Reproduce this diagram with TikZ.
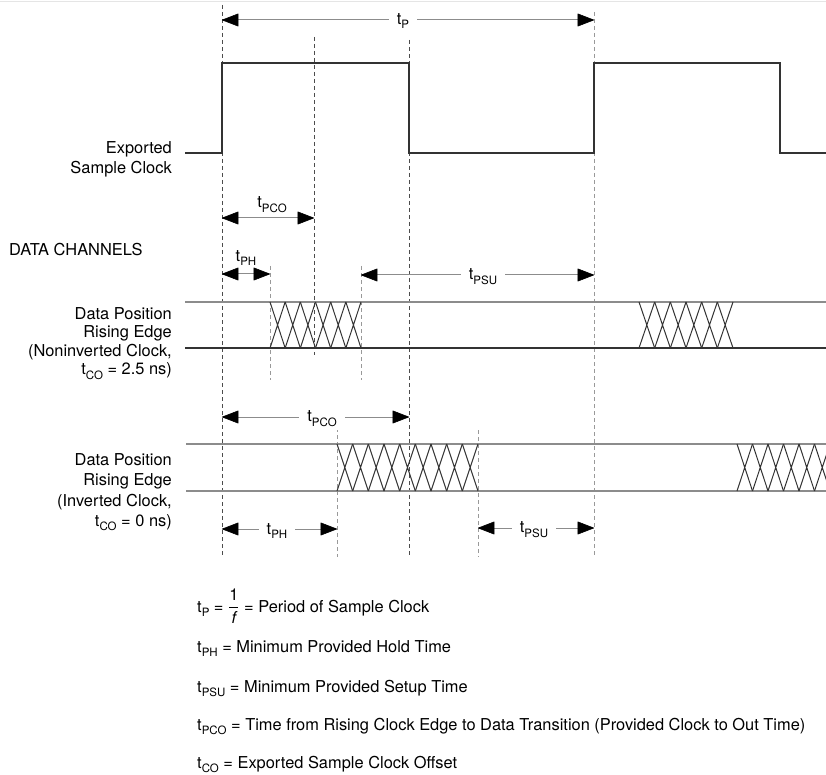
\documentclass[tikz,border=0pt]{standalone}
\usepackage{fontspec}
\setmainfont{TeX Gyre Heros}
\usetikzlibrary{arrows.meta}
\newcommand\tsub[1]{t\raisebox{-0.3em}{\fontsize{11.5}{12}\selectfont #1}}
\newcommand\xings[5]{%
  \pgfmathsetmacro\xw{(#2-#1)/#3}%
  \foreach \i in {1,...,#3}{%
    \pgfmathsetmacro\xa{#1+(\i-1)*\xw}%
    \pgfmathsetmacro\xb{\xa+\xw}%
    \draw[xing] (\xa,#4) -- (\xb,#5) (\xa,#5) -- (\xb,#4);
  }}
\begin{document}
\begin{tikzpicture}[x=1pt,y=-1pt,
  txt/.style={font=\fontsize{16.4}{19}\selectfont, inner sep=0pt},
  clk/.style={line width=1.4pt, draw=black!80},
  dashdark/.style={dash pattern=on 4pt off 3pt, line width=1pt, draw=black!70},
  dashlight/.style={dash pattern=on 4pt off 3pt, line width=1pt, draw=black!40},
  tipA/.tip={Triangle[length=17pt,width=13pt,color=black,fill=black,line width=0.6pt,round]},
  dim/.style={draw=black!45, line width=1pt, tipA-tipA},
  dlab/.style={txt, fill=white, inner xsep=8pt, inner ysep=3pt},
  dtop/.style={line width=1.4pt, draw=black!45},
  dbot/.style={line width=1.4pt, draw=black!80},
  xing/.style={line width=1pt, draw=black!80},
]
\useasboundingbox (0,0) rectangle (826,775);
\draw[black!10, line width=1pt] (0,2) -- (826,2);

% dashed reference lines
\draw[dashdark] (222,5) -- (222,557);
\draw[dashdark] (314,37) -- (314,355);
\draw[dashdark] (409,40) -- (409,557);
\draw[dashlight] (594,12) -- (594,557);
\draw[dashlight] (270,266) -- (270,380);
\draw[dashlight] (361,266) -- (361,380);
\draw[dashlight] (337,428) -- (337,557);
\draw[dashlight] (478,430) -- (478,557);

% clock
\draw[clk] (185,153) -- (222,153) -- (222,63) -- (409,63) -- (409,153)
  -- (594,153) -- (594,63) -- (780,63) -- (780,153) -- (826,153);

% data channel 1
\draw[dtop] (185,302) -- (826,302);
\draw[dbot] (185,348) -- (826,348);
\xings{270}{361}{6}{302}{348}
\xings{639}{733}{6}{302}{348}

% data channel 2
\draw[dtop] (186,444) -- (826,444);
\draw[dtop] (186,491) -- (826,491);
\xings{337}{478}{9}{444}{491}
\begin{scope}
\clip (0,0) rectangle (826,775);
\xings{737}{830}{6}{444}{491}
\end{scope}

% dimension coordinates
\coordinate (pA) at (222,20);  \coordinate (pB) at (594,20);
\coordinate (coA) at (222,218); \coordinate (coB) at (314,218);
\coordinate (phA) at (222,274); \coordinate (phB) at (270,274);
\coordinate (suA) at (361,275); \coordinate (suB) at (594,275);
\coordinate (co2A) at (222,417); \coordinate (co2B) at (409,417);
\coordinate (ph2A) at (222,529); \coordinate (ph2B) at (337,529);
\coordinate (su2A) at (478,528); \coordinate (su2B) at (594,528);

\draw[dim] (pA) -- (pB);
\draw[dim] (coA) -- (coB);
\draw[dim] (phA) -- (phB);
\draw[dim] (suA) -- (suB);
\draw[dim] (co2A) -- (co2B);
\draw[dim] (ph2A) -- (ph2B);
\draw[dim] (su2A) -- (su2B);

\node[dlab] (lp) at (403,21) {\tsub{P}};
\node[txt] (lco) at (272,205) {\tsub{PCO}};
\node[txt] (lph) at (246,258) {\tsub{PH}};
\node[dlab] (lsu) at (483,277) {\tsub{PSU}};
\node[dlab] (lco2) at (322,419) {\tsub{PCO}};
\node[dlab] (lph2) at (277,531) {\tsub{PH}};
\node[dlab] (lsu2) at (534,530) {\tsub{PSU}};

% left labels
\node[txt, anchor=base east] (e1) at (172,154) {Exported};
\node[txt, anchor=base east] (e2) at (172,174) {Sample Clock};
\node[txt, anchor=base west] (dc) at (9,256) {DATA CHANNELS};
\node[txt, anchor=base east] (a1) at (172,319) {Data Position};
\node[txt, anchor=base east] (a2) at (172,337.5) {Rising Edge};
\node[txt, anchor=base east] (a3) at (172,356) {(Noninverted Clock,};
\node[txt, anchor=base east] (a4) at (172,374.5) {\tsub{CO} = 2.5 ns)};
\node[txt, anchor=base east] (b1) at (172,465) {Data Position};
\node[txt, anchor=base east] (b2) at (172,485) {Rising Edge};
\node[txt, anchor=base east] (b3) at (172,506) {(Inverted Clock,};
\node[txt, anchor=base east] (b4) at (172,526) {\tsub{CO} = 0 ns)};

% legend
\node[txt, anchor=base west] (g1) at (197,612) {\tsub{P} = $\displaystyle\frac{\mbox{1}}{\mbox{\itshape f}}$ = Period of Sample Clock};
\node[txt, anchor=base west] (g2) at (197,652) {\tsub{PH} = Minimum Provided Hold Time};
\node[txt, anchor=base west] (g3) at (197,692) {\tsub{PSU} = Minimum Provided Setup Time};
\node[txt, anchor=base west] (g4) at (197,730) {\tsub{PCO} = Time from Rising Clock Edge to Data Transition (Provided Clock to Out Time)};
\node[txt, anchor=base west] (g5) at (197,768) {\tsub{CO} = Exported Sample Clock Offset};
\end{tikzpicture}
\end{document}
